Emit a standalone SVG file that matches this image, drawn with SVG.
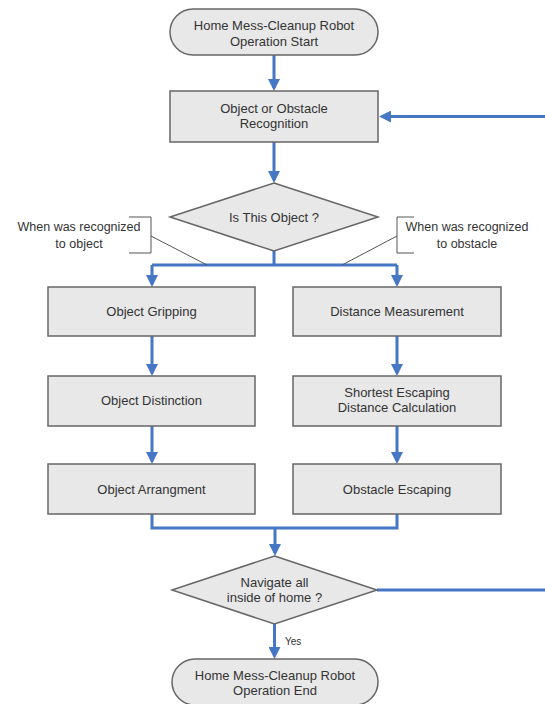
<svg xmlns="http://www.w3.org/2000/svg" width="545" height="704" viewBox="0 0 545 704">
<style>
  .shape{fill:#e8e8e8;stroke:#666;stroke-width:1.5}
  .t{font-family:"Liberation Sans",Arial,sans-serif;font-size:13px;fill:#333;text-anchor:middle}
  .c{font-family:"Liberation Sans",Arial,sans-serif;font-size:12.5px;fill:#333;text-anchor:middle}
  .y{font-family:"Liberation Sans",Arial,sans-serif;font-size:10px;fill:#333}
  .conn{fill:none;stroke:#4577c4;stroke-width:3}
  .arr{marker-end:url(#ah)}
  .call{fill:none;stroke:#555;stroke-width:1}
</style>
<defs>
  <marker id="ah" markerUnits="userSpaceOnUse" markerWidth="12" markerHeight="12" refX="9" refY="6" orient="auto">
    <path d="M0,0 L12,6 L0,12 z" fill="#4577c4"/>
  </marker>
</defs>
<rect width="545" height="704" fill="#fff"/>
<g id="connectors">
  <path class="conn arr" d="M274,55 V88"/>
  <path class="conn arr" d="M545,116.5 H382"/>
  <path class="conn arr" d="M274,142 V180"/>
  <path class="conn" d="M274,251 V265"/>
  <path class="conn arr" d="M152,265 H397 M152,265 V284"/>
  <path class="conn arr" d="M397,265 V284"/>
  <path class="conn arr" d="M152,336 V373"/>
  <path class="conn arr" d="M397,336 V373"/>
  <path class="conn arr" d="M152,426 V461"/>
  <path class="conn arr" d="M397,426 V461"/>
  <path class="conn" d="M152,514 V528 H397 V514"/>
  <path class="conn arr" d="M275,528 V553"/>
  <path class="conn" d="M377,590 H545"/>
  <path class="conn arr" d="M274.5,624 V656"/>
  <text class="y" x="285" y="645">Yes</text>
</g>
<g id="start">
  <rect class="shape" x="170" y="9" width="208" height="46" rx="23"/>
  <text class="t" x="274" y="29.5">Home Mess-Cleanup Robot</text>
  <text class="t" x="274" y="45.5">Operation Start</text>
</g>
<g id="recognition">
  <rect class="shape" x="170" y="91" width="208" height="51"/>
  <text class="t" x="274" y="112.5">Object or Obstacle</text>
  <text class="t" x="274" y="128">Recognition</text>
</g>
<g id="decision1">
  <polygon class="shape" points="274,183 378,217 274,251 170,217"/>
  <text class="t" x="274" y="221.5">Is This Object ?</text>
</g>
<g id="callout-object">
  <path class="call" d="M129,217 H151 V253 H129 M151,236 L207,265"/>
  <text class="c" x="79" y="231">When was recognized</text>
  <text class="c" x="79" y="248">to object</text>
</g>
<g id="callout-obstacle">
  <path class="call" d="M414,217 H397 V253 H414 M397,236 L342,265"/>
  <text class="c" x="467" y="231">When was recognized</text>
  <text class="c" x="467" y="248">to obstacle</text>
</g>
<g id="gripping">
  <rect class="shape" x="48" y="287" width="207" height="49"/>
  <text class="t" x="151.5" y="315.5">Object Gripping</text>
</g>
<g id="distinction">
  <rect class="shape" x="48" y="376" width="207" height="50"/>
  <text class="t" x="151.5" y="405">Object Distinction</text>
</g>
<g id="arrangment">
  <rect class="shape" x="48" y="464" width="207" height="50"/>
  <text class="t" x="151.5" y="493.5">Object Arrangment</text>
</g>
<g id="distance">
  <rect class="shape" x="293" y="287" width="208" height="49"/>
  <text class="t" x="397" y="315.5">Distance Measurement</text>
</g>
<g id="shortest">
  <rect class="shape" x="293" y="376" width="208" height="50"/>
  <text class="t" x="397" y="396.5">Shortest Escaping</text>
  <text class="t" x="397" y="412">Distance Calculation</text>
</g>
<g id="escaping">
  <rect class="shape" x="293" y="464" width="208" height="50"/>
  <text class="t" x="397" y="493.5">Obstacle Escaping</text>
</g>
<g id="decision2">
  <polygon class="shape" points="274.5,556 377,590 274.5,624 172,590"/>
  <text class="t" x="274.5" y="586.5">Navigate all</text>
  <text class="t" x="274.5" y="602">inside of home ?</text>
</g>
<g id="end">
  <rect class="shape" x="172" y="659" width="206" height="46" rx="23"/>
  <text class="t" x="275" y="679.5">Home Mess-Cleanup Robot</text>
  <text class="t" x="275" y="695">Operation End</text>
</g>
</svg>
